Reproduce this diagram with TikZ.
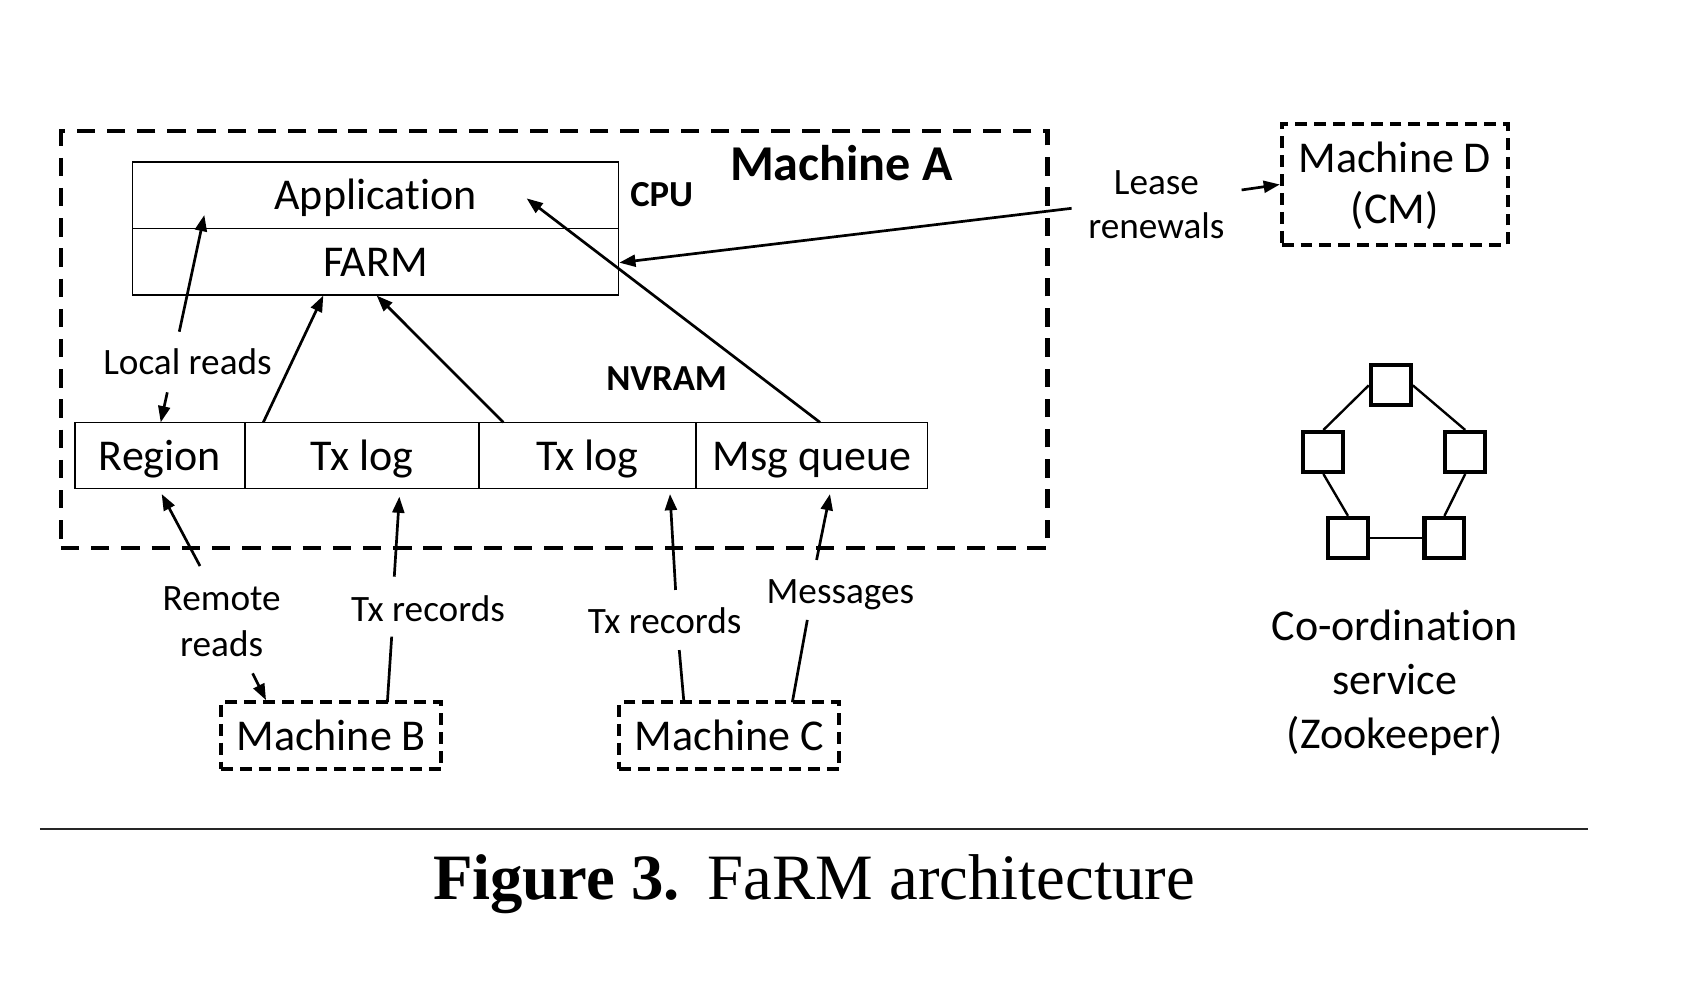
\documentclass[tikz,border=0pt]{standalone}
\usepackage{fontspec}
\setmainfont{Carlito}[Ligatures=NoCommon]
\newfontfamily\capfont{Liberation Serif}
\usetikzlibrary{arrows.meta}
\begin{document}
\begin{tikzpicture}[x=1pt,y=-1pt,
  boxst/.style={draw, line width=1.4pt, inner sep=0pt, text height=27.7pt, text depth=0pt,
    font=\fontsize{40.8}{49}\selectfont},
  bigdash/.style={draw, line width=3.9pt, dash pattern=on 17pt off 11pt, inner sep=0pt},
  smalldash/.style={draw, line width=3.4pt, dash pattern=on 11pt off 6.5pt, inner sep=0pt,
    text height=27.8pt, text depth=0pt, font=\fontsize{40.8}{49}\selectfont},
  arr/.style={line width=2.5pt, -{Triangle[length=15pt,width=11pt]}},
  plainln/.style={line width=2.5pt},
  lbl/.style={anchor=base, inner sep=0pt, font=\fontsize{34.5}{40}\selectfont},
  mainlbl/.style={anchor=base, inner sep=0pt, font=\fontsize{40.8}{49}\selectfont},
  boldlbl/.style={anchor=base, inner sep=0pt, font=\fontsize{34}{40}\selectfont\bfseries},
  titlelbl/.style={anchor=base, inner sep=0pt, font=\fontsize{46.5}{54}\selectfont\bfseries},
  zk/.style={draw, line width=3.8pt, minimum size=37pt, inner sep=0pt},
  zkline/.style={line width=2.2pt}
]
\useasboundingbox (0,0) rectangle (1567.6,927);

% Machine A frame
\node[bigdash, minimum width=914.5pt, minimum height=386.5pt] (mA) at (513.75,315) {};
\node[titlelbl] (mAt) at (780,166.9) {Machine A};
\node[boldlbl] (cpu) at (613.4,191) {CPU};
\node[boldlbl] (nvram) at (618,362) {NVRAM};

% CPU stack
\node[boxst, minimum width=450.2pt, minimum height=61.6pt] (app) at (348.1,180.8) {Application};
\node[boxst, minimum width=450.2pt, minimum height=61.9pt] (farm) at (348.1,242.55) {FARM};

% NVRAM row
\node[boxst, minimum width=157.6pt, minimum height=61.2pt] (region) at (148.3,422.1) {Region};
\node[boxst, minimum width=216.9pt, minimum height=61.2pt] (tx1) at (335.55,422.1) {Tx log};
\node[boxst, minimum width=201.2pt, minimum height=61.2pt] (tx2) at (544.6,422.1) {Tx log};
\node[boxst, minimum width=214.8pt, minimum height=61.2pt] (msg) at (752.6,422.1) {Msg queue};

% other machines
\node[smalldash, minimum width=204pt, minimum height=62pt] (mB) at (307,682) {Machine B};
\node[smalldash, minimum width=204pt, minimum height=62pt] (mC) at (676,682) {Machine C};
\node[smalldash, minimum width=209.5pt, minimum height=112pt] (mD) at (1292.9,171) {};
\node[mainlbl] (mDa) at (1293,160) {Machine D};
\node[mainlbl] (mDb) at (1293,207) {(CM)};

% labels
\node[lbl] (lrl) at (173.8,347) {Local reads};
\node[lbl] (lea) at (1072,180) {Lease};
\node[lbl] (ren) at (1072,221) {renewals};
\node[lbl] (rem) at (205.5,565.5) {Remote};
\node[lbl] (rrd) at (205.5,608.7) {reads};
\node[lbl] (txbl) at (396.8,575.7) {Tx records};
\node[lbl] (txcl) at (616.2,587.1) {Tx records};
\node[lbl] (msgl) at (779.1,559.3) {Messages};

% connector end points
\coordinate (lrA) at (166.2,307.5);
\coordinate (lrB) at (189.4,199.3);
\coordinate (lrC) at (155.1,363.7);
\coordinate (lrD) at (149,391.5);
\coordinate (t1s) at (244.1,391.5);
\coordinate (t1e) at (299.7,274);
\coordinate (t2s) at (466.6,391.5);
\coordinate (t2e) at (349.2,274);
\coordinate (mqs) at (760.1,391.5);
\coordinate (mqe) at (488.2,183.9);
\coordinate (lsA) at (993.4,193.1);
\coordinate (lsB) at (574.1,243.5);
\coordinate (lsC) at (1151,176.1);
\coordinate (rrA) at (185.4,524.7);
\coordinate (rrB) at (149.9,458);
\coordinate (rrC) at (234.2,624.2);
\coordinate (rrD) at (246.6,649);
\coordinate (tbA) at (365.5,534.6);
\coordinate (tbB) at (370.2,460.4);
\coordinate (tbC) at (363.1,590.2);
\coordinate (tbD) at (359.1,651);
\coordinate (tcA) at (626.3,546.9);
\coordinate (tcB) at (621.1,458);
\coordinate (tcC) at (629.7,602.6);
\coordinate (tcD) at (634,651);
\coordinate (msA) at (757,519.1);
\coordinate (msB) at (769.4,458);
\coordinate (msC) at (748.4,574.7);
\coordinate (msD) at (734.5,651);

% connectors
\draw[arr] (lrA) -- (lrB);
\draw[arr] (lrC) -- (lrD);
\draw[arr] (t1s) -- (t1e);
\draw[arr] (t2s) -- (t2e);
\draw[arr] (mqs) -- (mqe);
\draw[arr] (lsA) -- (lsB);
\draw[arr] (lsC) -- (mD.west);
\draw[arr] (rrA) -- (rrB);
\draw[arr] (rrC) -- (rrD);
\draw[arr] (tbA) -- (tbB);
\draw[plainln] (tbC) -- (tbD);
\draw[arr] (tcA) -- (tcB);
\draw[plainln] (tcC) -- (tcD);
\draw[arr] (msA) -- (msB);
\draw[plainln] (msC) -- (msD);

% coordination service
\node[zk] (zt) at (1289.3,357.2) {};
\node[zk] (zl) at (1226.8,419) {};
\node[zk] (zr) at (1358.3,419) {};
\node[zk] (zbl) at (1249.6,498.6) {};
\node[zk] (zbr) at (1339,498.6) {};
\draw[zkline] (zt.west) -- (zl.north);
\draw[zkline] (zt.east) -- (zr.north);
\draw[zkline] (zl.south) -- (zbl.north);
\draw[zkline] (zr.south) -- (zbr.north);
\draw[zkline] (zbl.east) -- (zbr.west);
\node[mainlbl] (co1) at (1293,594) {Co-ordination};
\node[mainlbl] (co2) at (1293,644) {service};
\node[mainlbl] (co3) at (1293,694) {(Zookeeper)};

% caption
\coordinate (ruleL) at (37,768.8);
\coordinate (ruleR) at (1472,768.8);
\draw[line width=1.8pt, black!85] (ruleL) -- (ruleR);
\node[anchor=base west, inner sep=0pt, font=\capfont\fontsize{60}{70}\selectfont] (cap) at (401.2,834.3)
  {\textbf{Figure 3.}\hspace{26pt}FaRM architecture};
\end{tikzpicture}
\end{document}
